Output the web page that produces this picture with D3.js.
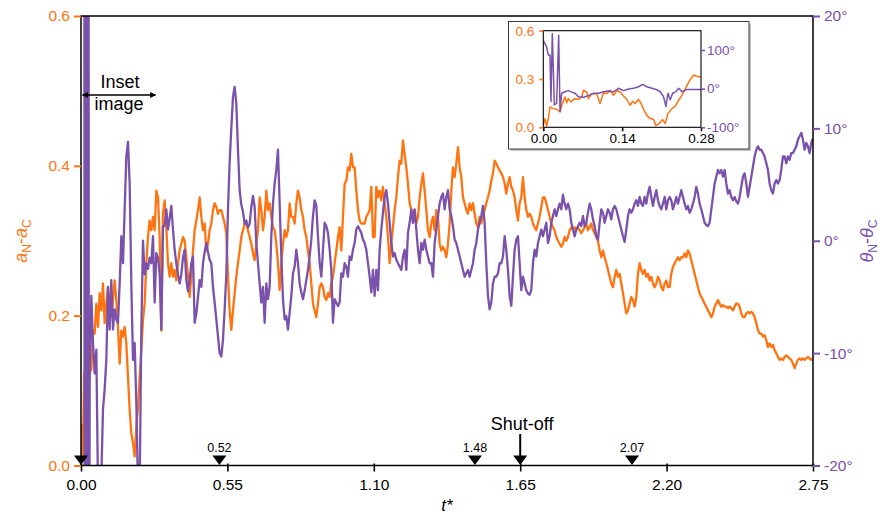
<!DOCTYPE html>
<html>
<head>
<meta charset="utf-8">
<script src="https://cdn.jsdelivr.net/npm/d3@7"></script>
<style>
  body { margin: 0; background: #fff; }
  svg { display: block; }
</style>
</head>
<body>
<svg id="chart" width="887" height="516"></svg>
<script>
const orange = "#ff7410";
const purple = "#7a52ab";
const font = '"Liberation Sans", Arial, Helvetica, sans-serif';

// early frames (also shown in the inset), [t*, value]
const insetA = [[0,0.012],[0.003,0.054],[0.0059,0.008],[0.0089,0.054],[0.0119,0.126],[0.0178,0.116],
  [0.0237,0.112],[0.0297,0.095],[0.0338,0.147],[0.0386,0.188],[0.0415,0.153],[0.0445,0.178],[0.0492,0.157],
  [0.0552,0.178],[0.0623,0.174],[0.0682,0.188],[0.0712,0.23],[0.0771,0.219],[0.0801,0.178],[0.086,0.209],
  [0.0949,0.209],[0.1008,0.147],[0.1068,0.215],[0.1127,0.209],[0.1186,0.23],[0.1246,0.198],[0.1305,0.23],
  [0.1364,0.219],[0.1424,0.194],[0.1483,0.174],[0.1542,0.137],[0.1584,0.161],[0.1631,0.147],[0.169,0.174],
  [0.1738,0.147],[0.178,0.112],[0.1839,0.074],[0.1898,0.054],[0.1957,0.05],[0.1998,0.012],[0.2058,0.023],
  [0.2117,0.048],[0.2165,0.023],[0.2212,0.085],[0.2283,0.116],[0.2343,0.132],[0.2402,0.168],[0.2462,0.198],
  [0.2509,0.23],[0.2568,0.271],[0.261,0.298],[0.2669,0.323],[0.2729,0.317],[0.28,0.312]];
const insetT = [[0,125],[0.0059,108],[0.0089,87],[0.0119,87],[0.0136,-33],[0.016,142],[0.0196,-42],
  [0.0237,-38],[0.0273,138],[0.0297,-59],[0.0326,-12],[0.0386,-8],[0.0445,-5],[0.0504,-9],[0.0564,-12],
  [0.0623,-21],[0.0712,-22],[0.0801,-18],[0.089,-12],[0.0979,-12],[0.1068,-8],[0.1157,-6],[0.1246,-8],
  [0.1335,1],[0.1424,-5],[0.1513,-1],[0.1602,1],[0.1691,5],[0.1762,11],[0.1839,5],[0.1928,1],[0.2017,-3],
  [0.2076,-8],[0.2136,-21],[0.2177,-46],[0.2213,-12],[0.2254,-29],[0.2296,-12],[0.2343,-9],[0.2403,1],
  [0.2462,-8],[0.2551,-2],[0.264,-2],[0.28,-2]];

// main record, one sample every dt from t0
const t0 = 0.0388, dt = 0.006261;
const aVals = [
  0.127,0.18,0.176,0.216,0.185,0.23,0.207,0.243,0.19,0.216,0.238,0.207,0.198,0.221,0.247,0.221,0.185,0.136,0.18,0.172,
  0.185,0.163,0.118,0.074,0.043,0.03,0.012,0.052,0.078,0.118,0.154,0.194,0.216,0.27,0.305,0.327,0.314,0.332,0.314,0.367,
  0.358,0.305,0.18,0.336,0.354,0.318,0.27,0.252,0.27,0.252,0.261,0.247,0.27,0.287,0.296,0.305,0.3,0.278,0.252,0.225,
  0.252,0.287,0.314,0.327,0.341,0.358,0.332,0.314,0.323,0.287,0.296,0.314,0.323,0.341,0.35,0.345,0.336,0.341,0.341,0.332,
  0.323,
  0.31,0.252,0.207,0.181,0.207,0.23,0.252,0.27,0.287,0.305,0.314,0.323,0.323,0.314,0.305,0.296,0.283,0.274,0.296,0.314,
  0.358,0.341,0.314,0.332,0.367,0.341,0.35,0.332,0.318,0.314,0.296,0.27,0.234,0.27,0.296,0.314,0.305,0.314,0.35,0.332,
  0.332,0.323,0.35,0.367,0.358,0.341,0.332,0.314,0.305,0.287,0.27,0.243,0.216,0.207,0.198,0.216,0.238,0.243,0.238,0.225,
  0.221,0.23,0.225,0.243,0.252,0.27,0.287,0.305,0.318,0.287,0.332,0.376,0.38,0.398,0.394,0.416,0.398,0.398,0.367,0.341,
  0.327,0.323,0.323,0.323,0.332,0.336,0.341,0.372,0.305,
  0.305,0.372,0.358,0.367,0.354,0.372,0.35,0.332,0.305,0.27,0.296,0.318,0.341,0.358,0.385,0.407,0.403,0.434,0.416,0.398,
  0.376,0.35,0.341,0.332,0.341,0.323,0.332,0.358,0.376,0.39,0.367,0.341,0.314,0.305,0.323,0.332,0.314,0.341,0.332,0.296,
  0.287,0.292,0.287,0.278,0.296,0.323,0.367,0.398,0.385,0.403,0.425,0.398,0.385,0.358,0.35,0.341,0.336,0.35,0.341,0.35,
  0.336,0.323,0.318,0.332,0.323,0.332,0.341,0.35,0.358,0.367,0.38,0.39,0.407,0.403,0.398,0.394,0.39,0.385,0.376,0.363,
  0.376,0.385,0.372,0.367,0.358,0.341,0.327,0.35,0.358,
  0.385,0.358,0.341,0.332,0.336,0.332,0.323,0.318,0.314,0.323,0.332,0.345,0.358,0.358,0.35,0.341,0.332,0.323,0.318,0.314,
  0.305,0.3,0.296,0.292,0.296,0.305,0.3,0.305,0.314,0.318,0.314,0.318,0.314,0.318,0.314,0.31,0.314,0.318,0.323,0.314,
  0.318,0.323,0.314,0.31,0.305,0.3,0.287,0.278,0.287,0.278,0.27,0.261,0.252,0.243,0.238,0.252,0.261,0.252,0.256,0.243,
  0.23,0.216,0.203,0.207,0.216,0.225,0.221,0.212,0.225,0.256,0.27,0.261,0.256,0.261,0.252,0.256,0.247,0.252,0.243,0.238,
  0.243,0.252,0.247,0.238,0.234,0.243,0.247,0.238,
  0.238,0.256,0.265,0.27,0.274,0.278,0.274,0.278,0.278,0.283,0.278,0.287,0.283,0.274,0.265,0.256,0.247,0.238,0.23,0.225,
  0.221,0.216,0.212,0.207,0.203,0.198,0.203,0.212,0.216,0.221,0.216,0.212,0.214,0.212,0.212,0.21,0.212,0.21,0.207,0.212,
  0.216,0.216,0.212,0.203,0.198,0.198,0.203,0.205,0.203,0.205,0.203,0.198,0.19,0.181,0.176,0.176,0.172,0.174,0.167,0.158,
  0.163,0.158,0.161,0.154,0.15,0.145,0.141,0.143,0.141,0.145,0.147,0.145,0.143,0.141,0.136,0.13,0.136,0.141,0.143,0.141,
  0.143,0.141,0.143,0.145,0.143,0.141,0.143];
const thVals = [
  -4.9,-9.1,-11.8,-9.7,-22,-22,-21,-15,-13.2,-10.6,-4.1,-7.9,-3.5,-7.9,-6.1,-7,-7.3,-3.8,0.4,-2,
  2.8,7.5,8.8,5.1,-3.8,-10.6,-9.1,-14.4,-22,-22,-8,0,-3,-2,-2.5,-1.5,-2,0.4,-5.5,-1.1,
  -1.5,-3,-7.9,1.3,1.3,2.8,1,2,3.1,1,-0.8,-2,-3,-3.8,-3,-1.5,-0.8,-3.5,-4.5,-3.5,
  -2,-1.4,-7.3,-6.5,-5,-3.5,-4.1,-2,-1,-0.2,-1,-1.7,-2,-4.1,-5.5,-7,-8.5,-10,-10.3,-8.8,
  -6.1,
  -3,2.8,7,10,12.8,13.7,12.2,8.1,4.5,3.2,2.6,1.5,1.8,1.2,1.5,3,4,3,-0.2,-2,
  -3.8,-5.5,-4.1,-7.3,-3.8,-5.2,-4.1,0.4,3.3,5.1,6.3,8.1,3.3,-1.4,-5.2,-7,-6.7,-7.9,-6.4,-4.9,
  -2.9,-2.3,-0.8,-2,-3.8,-4.6,-5.2,-4.4,-3.5,-2.6,-1.4,0.1,2.2,3.6,3.1,0.4,-2,-3.2,-0.8,1.6,
  1.3,0.7,-0.8,-2.6,-7.3,-5.2,-5.5,-5.8,-5.5,-2.9,-3.2,-2,-2.3,-3.2,-1.4,-1.7,-0.8,-0.2,1,1.3,
  1,0.7,0.1,-0.2,-0.8,-2,-3.2,-4.6,-2.6,
  -4.9,-2.6,-4.4,-0.8,1,2.5,3.9,4.5,3.3,1.6,-0.2,-1.4,-1.1,-1.7,-2,-2.3,-2.6,-1.4,-0.8,-2.6,
  0.7,1.6,2.8,1.6,2.8,1,-0.8,-2,-0.2,-0.8,0.1,-0.8,-1.4,-2,-2,-3.2,-0.2,1,2.2,3.3,
  3.9,4.2,2.8,3.9,4.5,2.8,2.2,1.3,0.1,-0.2,-0.8,-1.4,-2,-2.6,-3.2,-2.9,-2.6,-3.2,-2.6,-2,
  -0.8,-0.2,1,1.6,2.2,3.1,1.6,-2,-4.9,-6.1,-5.5,-3.8,-3.2,-3.2,-2.9,-2,-2,-1.4,0.4,-0.8,
  -2.6,-4.9,-5.8,-3.2,-0.8,0.1,0.4,-2,-4.4,
  -3.2,-3.8,-4.4,-4.7,-4.8,-4.4,-2,-0.8,-1.4,-0.2,0.4,1,0.4,1,1.6,-0.2,0.4,1.6,2.2,2.8,
  2.2,2.8,3.3,2.8,4.1,3.3,2.8,3.3,2.8,1.6,1,0.4,1,1.3,1.6,1.3,2.2,1.3,1.6,2.5,
  3.3,2.8,1.9,1.3,0.4,0.1,1.6,2.8,2.5,1.6,2.2,2.8,2.5,1.9,2.8,3.1,2.8,2.2,1.6,1,
  0.4,-0.1,1,2.2,2.8,2.5,2.8,3.3,3.6,3.1,3.9,3.3,3.1,3.9,3.3,4.2,4.8,3.9,3.1,3.9,
  4.5,3.6,3.1,2.8,3.3,3.9,2.8,3.6,
  3.9,3.6,2.8,3.3,3.9,3.3,3.9,4.5,3.9,3.3,2.8,3.1,2.5,2.8,3.3,3.9,4.8,4.2,3.3,2.8,
  2.2,1.6,1.4,1.3,1.6,2.8,3.9,5.1,5.7,6.3,6,6.3,5.7,6.3,5.1,4.2,4.5,3.9,3.6,3.9,
  3.5,3.3,3.9,4.8,5.7,6,5.1,3.9,4.8,5.7,6.6,7.5,8.1,8.4,8.1,8.1,7.8,7.5,6.9,6.3,
  5.1,4.5,4.2,5.1,5.4,5.1,5.4,6.3,7.5,7.5,6.9,7.5,7.2,7.8,7.8,8.1,8.4,9,9.3,9.6,
  9,8.1,8.7,8.4,7.8,8.7,9.1];

const xTicks = [0, 0.55, 1.10, 1.65, 2.20, 2.75];
const aTicks = [0, 0.2, 0.4, 0.6];
const thTicks = [-20, -10, 0, 10, 20];
const eventT = [0, 0.52, 1.48, 1.65, 2.07];
const eventLabel = ["", "0.52", "1.48", "", "2.07"];
const shutOff = 1.65;
const insetXTicks = [0, 0.14, 0.28];
const insetATicks = [0, 0.3, 0.6];
const insetThTicks = [-100, 0, 100];

const mainA = insetA.filter(d => d[0] < 0.036).concat(aVals.map((v, i) => [t0 + i * dt, v]));
const mainT = insetT.filter(d => d[0] < 0.036).concat(thVals.map((v, i) => [t0 + i * dt, v]));

const svg = d3.select("#chart").style("font-family", font);

const x = d3.scaleLinear().domain([0, 2.75]).range([81, 813]);
const yA = d3.scaleLinear().domain([0, 0.6]).range([465.5, 16]);
const yT = d3.scaleLinear().domain([-20, 20]).range([465.5, 16]);

const defs = svg.append("defs");
defs.append("clipPath").attr("id", "clipMain").append("rect")
    .attr("x", 81).attr("y", 16).attr("width", 732).attr("height", 449.5);
defs.append("marker").attr("id", "head").attr("viewBox", "0 0 10 10")
    .attr("refX", 9).attr("refY", 5).attr("markerWidth", 8).attr("markerHeight", 6)
    .attr("markerUnits", "userSpaceOnUse").attr("orient", "auto-start-reverse")
    .append("path").attr("d", "M0,0 L10,5 L0,10 Z").attr("fill", "#000");

// data lines
const plot = svg.append("g").attr("clip-path", "url(#clipMain)");
plot.append("path").datum(mainA)
    .attr("d", d3.line().x(d => x(d[0])).y(d => yA(d[1])))
    .attr("fill", "none").attr("stroke", orange).attr("stroke-width", 2.3).attr("stroke-linejoin", "round");
plot.append("path").datum(mainT)
    .attr("d", d3.line().x(d => x(d[0])).y(d => yT(d[1])))
    .attr("fill", "none").attr("stroke", purple).attr("stroke-width", 2.3).attr("stroke-linejoin", "round");

svg.append("rect").attr("x", 81).attr("y", 16).attr("width", 732).attr("height", 449.5)
    .attr("fill", "none").attr("stroke", "#000").attr("stroke-width", 1.5);

// axes
svg.append("g").attr("transform", "translate(0,465.5)")
    .call(d3.axisBottom(x).tickValues(xTicks).tickFormat(d3.format(".2f")).tickSize(6).tickPadding(7))
    .call(g => g.select(".domain").remove())
    .call(g => g.selectAll(".tick line").attr("y1", -2).attr("stroke-width", 1.6))
    .call(g => g.selectAll("text").attr("font-size", 15.5).attr("font-family", font));

svg.append("g").attr("transform", "translate(81,0)").attr("color", orange)
    .call(d3.axisLeft(yA).tickValues(aTicks).tickFormat(d3.format(".1f")).tickSize(7).tickPadding(4))
    .call(g => g.select(".domain").remove())
    .call(g => g.selectAll(".tick line").attr("stroke-width", 2))
    .call(g => g.selectAll("text").attr("font-size", 15.5).attr("font-family", font));

svg.append("g").attr("transform", "translate(813,0)").attr("color", purple)
    .call(d3.axisRight(yT).tickValues(thTicks).tickFormat(d => d + "°").tickSize(7).tickPadding(4))
    .call(g => g.select(".domain").remove())
    .call(g => g.selectAll(".tick line").attr("stroke-width", 2))
    .call(g => g.selectAll("text").attr("font-size", 15.5).attr("font-family", font));

// axis titles
svg.append("text").attr("x", 447).attr("y", 511).attr("text-anchor", "middle")
    .attr("font-size", 17).attr("font-style", "italic").text("t*");

const subLabel = (g, sym, color) => {
  g.attr("text-anchor", "middle").attr("fill", color).attr("font-size", 18);
  g.append("tspan").attr("font-style", "italic").text(sym);
  g.append("tspan").attr("font-size", 12).attr("dy", 4).text("N");
  g.append("tspan").attr("dy", -4).text("-");
  g.append("tspan").attr("font-style", "italic").text(sym);
  g.append("tspan").attr("font-size", 12).attr("dy", 4).text("C");
};
svg.append("text").attr("transform", "translate(27,241) rotate(-90)").call(subLabel, "a", orange);
svg.append("text").attr("transform", "translate(873,241) rotate(-90)").call(subLabel, "θ", purple);

// event markers on the time axis
const ev = svg.append("g");
ev.selectAll("path").data(eventT).join("path")
    .attr("d", d => `M${x(d) - 7},455.5 L${x(d) + 7},455.5 L${x(d)},465 Z`)
    .attr("fill", "#000");
ev.selectAll("text").data(eventT).join("text")
    .attr("x", d => x(d)).attr("y", 451.5).attr("text-anchor", "middle")
    .attr("font-size", 12.5).text((d, i) => eventLabel[i]);
svg.append("line").attr("x1", x(shutOff)).attr("x2", x(shutOff)).attr("y1", 434).attr("y2", 457)
    .attr("stroke", "#000").attr("stroke-width", 2);
svg.append("text").attr("x", x(shutOff) + 2).attr("y", 430).attr("text-anchor", "middle")
    .attr("font-size", 18).text("Shut-off");

// inset range annotation
svg.append("line").attr("x1", x(0) + 1.5).attr("x2", x(0.28)).attr("y1", 95).attr("y2", 95)
    .attr("stroke", "#000").attr("stroke-width", 1.5)
    .attr("marker-start", "url(#head)").attr("marker-end", "url(#head)");
svg.append("text").attr("x", 120).attr("y", 88).attr("text-anchor", "middle").attr("font-size", 18).text("Inset");
svg.append("text").attr("x", 119).attr("y", 110).attr("text-anchor", "middle").attr("font-size", 18).text("image");

// inset
const ix = d3.scaleLinear().domain([0, 0.28]).range([543.3, 701]);
const iyA = d3.scaleLinear().domain([0, 0.6]).range([127.3, 30.7]);
const iyT = d3.scaleLinear().domain([-100, 150]).range([127.3, 30.7]);

const inset = svg.append("g");
inset.append("rect").attr("x", 510.5).attr("y", 23.5).attr("width", 240.5).attr("height", 127.5).attr("fill", "#c4c4c4");
inset.append("rect").attr("x", 508.5).attr("y", 21.5).attr("width", 240.5).attr("height", 127.5)
    .attr("fill", "#fff").attr("stroke", "#3a3a3a").attr("stroke-width", 1);

defs.append("clipPath").attr("id", "clipInset").append("rect")
    .attr("x", 543.3).attr("y", 30.7).attr("width", 157.7).attr("height", 96.6);
const iplot = inset.append("g").attr("clip-path", "url(#clipInset)");
iplot.append("path").datum(insetA)
    .attr("d", d3.line().x(d => ix(d[0])).y(d => iyA(d[1])))
    .attr("fill", "none").attr("stroke", orange).attr("stroke-width", 1.5).attr("stroke-linejoin", "round");
iplot.append("path").datum(insetT)
    .attr("d", d3.line().x(d => ix(d[0])).y(d => iyT(d[1])))
    .attr("fill", "none").attr("stroke", purple).attr("stroke-width", 1.5).attr("stroke-linejoin", "round");
inset.append("rect").attr("x", 543.3).attr("y", 30.7).attr("width", 157.7).attr("height", 96.6)
    .attr("fill", "none").attr("stroke", "#000").attr("stroke-width", 1.1);

inset.append("g").attr("transform", "translate(0,127.3)")
    .call(d3.axisBottom(ix).tickValues(insetXTicks).tickFormat(d3.format(".2f")).tickSize(4).tickPadding(2))
    .call(g => g.select(".domain").remove())
    .call(g => g.selectAll(".tick line").attr("stroke-width", 1.6))
    .call(g => g.selectAll("text").attr("font-size", 13.5).attr("font-family", font));
inset.append("g").attr("transform", "translate(543.3,0)").attr("color", orange)
    .call(d3.axisLeft(iyA).tickValues(insetATicks).tickFormat(d3.format(".1f")).tickSize(4).tickPadding(5))
    .call(g => g.select(".domain").remove())
    .call(g => g.selectAll(".tick line").attr("stroke-width", 1.6))
    .call(g => g.selectAll("text").attr("font-size", 13.5).attr("font-family", font));
inset.append("g").attr("transform", "translate(701,0)").attr("color", purple)
    .call(d3.axisRight(iyT).tickValues(insetThTicks).tickFormat(d => d + "°").tickSize(4).tickPadding(2))
    .call(g => g.select(".domain").remove())
    .call(g => g.selectAll(".tick line").attr("stroke-width", 1.6))
    .call(g => g.selectAll("text").attr("font-size", 13.5).attr("font-family", font));
</script>
</body>
</html>
